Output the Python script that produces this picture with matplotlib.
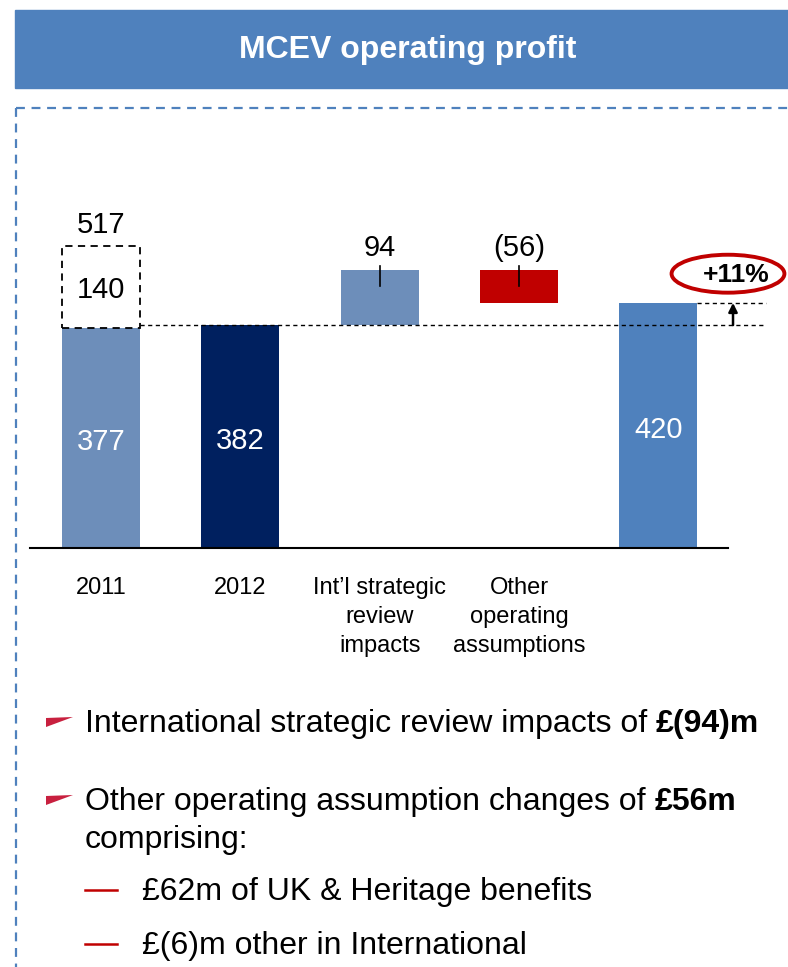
import matplotlib
matplotlib.use("Agg")
import matplotlib.pyplot as plt
from matplotlib.patches import Rectangle, Polygon, Ellipse

plt.rcParams['font.family'] = ['Liberation Sans', 'DejaVu Sans']

# data
categories = ["2011", "2012", "Int\u2019l strategic\nreview\nimpacts", "Other\noperating\nassumptions", ""]
value_2011 = 377
restated_2011 = 517
value_2012 = 382
intl_review = 94
other_assumptions = -56
value_2013 = 420
growth_label = "+11%"

light_blue = "#6D8EBA"
navy = "#00205F"
red = "#C00000"
mid_blue = "#4F81BD"

W, H = 788, 967
fig = plt.figure(figsize=(W / 100, H / 100), dpi=100)
renderer = fig.canvas.get_renderer()

# page-level overlay in pixel coords
bg = fig.add_axes([0, 0, 1, 1])
bg.set_xlim(0, W)
bg.set_ylim(H, 0)
bg.axis("off")

bg.add_patch(Rectangle((15, 10), W - 15, 78, color=mid_blue, zorder=1))
bg.text(408, 50, "MCEV operating profit", color="white", fontsize=23,
        fontweight="bold", ha="center", va="center")
bg.plot([16, W], [108, 108], color=mid_blue, lw=1.6, ls=(0, (4, 3)))
bg.plot([16, 16], [108, H], color=mid_blue, lw=1.6, ls=(0, (4, 3)))

fs = 23


def pennant(y):
    bg.add_patch(Polygon([(46, y - 4), (73, y - 5), (46, y + 5)], closed=True,
                         color="#C8203F", lw=0))


def mixed_line(x, y, normal, bold):
    t = bg.text(x, y, normal, fontsize=fs, va="center", ha="left")
    bb = t.get_window_extent(renderer)
    # window extent is in display pixels (origin bottom-left)
    bg.text(bb.x1, H - y, bold, fontsize=fs, fontweight="bold",
            va="center", ha="left", transform=None)


pennant(722)
mixed_line(85, 724, "International strategic review impacts of ", "\u00a3(94)m")
pennant(800)
mixed_line(85, 802, "Other operating assumption changes of ", "\u00a356m")
bg.text(85, 840, "comprising:", fontsize=fs, va="center", ha="left")
for y, s in [(890, "\u00a362m of UK & Heritage benefits"),
             (944, "\u00a3(6)m other in International")]:
    bg.plot([85, 117], [y, y], color=red, lw=1.8)
    bg.text(142, y + 2, s, fontsize=fs, va="center", ha="left")

# chart axes: baseline at pixel y=548, 0.5836 px per unit
px_per_unit = 0.5836
top_px = 200
ax = fig.add_axes([30 / W, (H - 548) / H, 698 / W, (548 - top_px) / H])
ax.set_xlim(-0.51, 4.50)
ax.set_ylim(0, (548 - top_px) / px_per_unit)
for s in ["top", "right", "left"]:
    ax.spines[s].set_visible(False)
ax.spines["bottom"].set_linewidth(1.5)
ax.set_yticks([])
ax.set_xticks(range(len(categories)))
ax.set_xticklabels(categories, fontsize=17, linespacing=1.42, va="top")
ax.tick_params(axis="x", length=0, pad=21)

bw = 0.56
ax.bar(0, value_2011, width=bw, color=light_blue)
ax.bar(0, restated_2011 - value_2011, bottom=value_2011, width=bw, fill=False,
       edgecolor="black", ls=(0, (4, 3)), lw=1.3)
ax.bar(1, value_2012, width=bw, color=navy)
ax.bar(2, intl_review, bottom=value_2012, width=bw, color=light_blue)
step = value_2012 + intl_review
ax.bar(3, other_assumptions, bottom=step, width=bw, color=red)
ax.bar(4, value_2013, width=bw, color=mid_blue)

lab = dict(fontsize=21, ha="center", va="center")
ax.text(0, value_2011 * 0.48, str(value_2011), color="white", **lab)
ax.text(1, value_2012 * 0.48, str(value_2012), color="white", **lab)
ax.text(4, value_2013 * 0.48, str(value_2013), color="white", **lab)
ax.text(0, (value_2011 + restated_2011) / 2 - 5, str(restated_2011 - value_2011), **lab)
ax.text(0, restated_2011 + 36, str(restated_2011), **lab)
ax.text(2, step + 38, str(intl_review), **lab)
ax.text(3, step + 38, "(%d)" % abs(other_assumptions), **lab)
for i in (2, 3):
    ax.plot([i, i], [step - 27, step + 8], color="black", lw=1.2)

# reference lines
ax.plot([0.28, 4.77], [value_2012, value_2012], color="black", lw=1,
        ls=(0, (3, 2.5)), clip_on=False)
ax.plot([4.28, 4.77], [value_2013, value_2013], color="black", lw=1,
        ls=(0, (3, 2.5)), clip_on=False)
ax.annotate("", xy=(4.536, value_2013), xytext=(4.536, value_2012),
            arrowprops=dict(arrowstyle="-|>", color="black", lw=1.8,
                            mutation_scale=13, shrinkA=0, shrinkB=0),
            annotation_clip=False)
ax.text(4.56, value_2013 + 48, growth_label, fontsize=19, fontweight="bold",
        ha="center", va="center", clip_on=False)
ax.add_patch(Ellipse((4.50, value_2013 + 50), 0.81, 65, fill=False,
                     edgecolor=red, lw=2.8, clip_on=False))

fig.savefig("out.png", dpi=100)
